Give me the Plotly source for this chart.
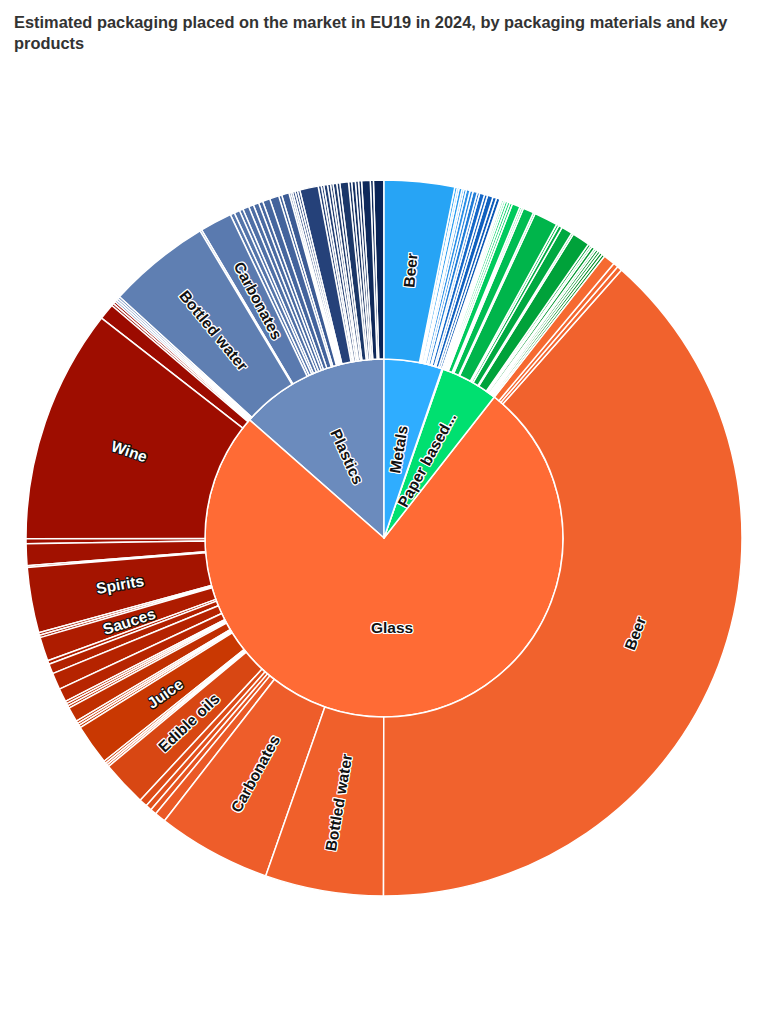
import math
import plotly.graph_objects as go

# ---------------- data (estimated kt) ----------------
# listed clockwise from 12 o'clock, as in the picture
materials = ["Metals", "Other", "Paper based composites", "Glass", "Plastics"]
material_short = ["Metals", "", "Paper based...", "Glass", "Plastics"]

metals_products = ["Beer", "Carbonates", "Energy drinks", "Bottled water", "Juice", "Sports drinks",
                   "Canned vegetables", "Canned fish", "Soups", "Pet food", "Ready meals", "Aerosols",
                   "Paints", "Coffee", "Infant formula"]
metals_values = [114, 4, 3, 5, 3, 4, 6, 5, 7, 4, 8, 5, 9, 6, 6]

other_products = ["Wine", "Spirits"]
other_values = [2, 1]

paper_products = ["Wine", "Spirits", "Soups", "Sauces", "Edible oils", "Juice", "Cereals", "Snacks",
                  "Milk", "Tea", "Beer", "Bottled water", "Carbonates", "Dairy drinks", "Confectionery",
                  "Frozen food", "Bakery", "Pet food", "Eggs", "Coffee", "Sugar", "Flour", "Baby food",
                  "Other food"]
paper_values = [3, 3, 4, 4, 4, 13, 3, 3, 17.5, 3, 38.5, 4, 6, 18, 3, 29, 4, 3, 5, 3, 4, 4, 4.5, 4.5]

glass_products = ["Cider", "Sparkling water", "Kombucha", "Beer", "Bottled water", "Carbonates",
                  "Ready-to-drink tea", "Energy drinks", "Sports drinks", "Flavoured water",
                  "Edible oils", "Vinegar", "Dressings", "Mayonnaise", "Juice",
                  "Nectars", "Smoothies", "Syrups", "Jams & spreads", "Honey", "Baby food", "Soups",
                  "Pickled vegetables", "Tomato products", "Dairy", "Coffee",
                  "Sauces", "Condiments", "Spices", "Spirits", "Liqueurs", "Sparkling wine",
                  "Fortified wine", "Wine", "Aromatised wine", "Vermouth", "Other beverages"]
glass_values = [19, 8, 8, 1384, 192, 185, 18, 10, 10, 13, 74, 3.5, 3.5, 4, 66,
                4, 4, 4, 24, 4, 4, 4, 22, 27, 16, 6,
                39, 4, 4, 106, 3, 35, 8, 380, 26, 4, 4]

plastics_products = ["Sauces", "Edible oils", "Juice", "Bottled water", "Flavoured water", "Carbonates",
                     "Milk", "Dairy drinks", "Yoghurt", "Ready-to-drink tea", "Energy drinks",
                     "Sports drinks", "Detergents", "Household cleaners", "Personal care", "Cosmetics",
                     "Confectionery", "Snacks", "Coffee", "Spreads", "Condiments", "Dressings",
                     "Fresh produce", "Meat", "Cheese", "Bakery", "Frozen food", "Ready meals",
                     "Pet food", "Baby food", "Fish", "Soups", "Spirits", "Wine", "Beer", "Cereals",
                     "Rice & pasta", "Other food"]
plastics_values = [3.5, 3.5, 3.5, 167, 3, 52, 7, 9, 6, 10, 8, 9, 7, 12, 15, 5, 12, 3, 3, 4, 4, 4,
                   30, 5, 4, 6, 5, 4, 6, 5, 14, 5, 6, 5, 5, 14, 5, 17]

products = [metals_products, other_products, paper_products, glass_products, plastics_products]
values = [metals_values, other_values, paper_values, glass_values, plastics_values]

# printed labels: (material, product or None for the material itself, orientation, text style)
label_specs = [
    ("Metals", None, "radial", "dark"), ("Paper based composites", None, "radial", "dark"),
    ("Glass", None, "horizontal", "dark"), ("Plastics", None, "radial", "dark"),
    ("Metals", "Beer", "radial", "dark"),
    ("Plastics", "Bottled water", "radial", "dark"), ("Plastics", "Carbonates", "radial", "dark"),
    ("Glass", "Beer", "tangential", "dark"), ("Glass", "Bottled water", "radial", "dark"),
    ("Glass", "Carbonates", "radial", "dark"), ("Glass", "Edible oils", "radial", "dark"),
    ("Glass", "Juice", "radial", "light"), ("Glass", "Sauces", "radial", "light"),
    ("Glass", "Spirits", "radial", "light"), ("Glass", "Wine", "radial", "light"),
]

# ---------------- styles / layout ----------------
CX, CY, R = 384, 538, 358          # pixel centre and radius of the sunburst
W, H = 768, 1024
LABEL_FONT = "Liberation Sans, Arial, sans-serif"
LABEL_SIZE = 15.5

inner_colors = ["#2FADFF", "#6E56D6", "#00E070", "#FF6B35", "#6B8BBD"]
shade_anchors = [
    [(0, "#27A4F5"), (0.45, "#2A8EE6"), (0.7, "#1668C8"), (1, "#0B58B5")],
    [(0, "#7B68EE"), (1, "#6A5ACD")],
    [(0, "#19E07C"), (0.2, "#00CC5E"), (0.45, "#00B34A"), (0.65, "#00A23A"), (0.8, "#00952C"), (1, "#008A22")],
    [(0, "#F66A31"), (0.14, "#EE5D2A"), (0.28, "#D84713"), (0.39, "#C93802"), (0.72, "#AE1C00"),
     (0.81, "#A31400"), (0.92, "#9E0D00"), (1, "#980800")],
    [(0, "#6686B8"), (0.13, "#5A7AAF"), (0.4, "#41619A"), (0.58, "#26427A"), (0.8, "#1C3869"), (1, "#0A2355")],
]


def hex2rgb(h):
    h = h.lstrip("#")
    return [int(h[i:i + 2], 16) for i in (0, 2, 4)]


def shade(anchors, t):
    for (p0, c0), (p1, c1) in zip(anchors[:-1], anchors[1:]):
        if p0 <= t <= p1:
            f = 0 if p1 == p0 else (t - p0) / (p1 - p0)
            a, b = hex2rgb(c0), hex2rgb(c1)
            return "rgb(%d,%d,%d)" % tuple(round(a[k] + (b[k] - a[k]) * f) for k in range(3))
    return anchors[-1][1]


def outline(c):
    return ", ".join("%dpx %dpx 0 %s" % (dx, dy, c)
                     for dx, dy in [(-1, -1), (1, -1), (-1, 1), (1, 1), (0, -1), (0, 1), (-1, 0), (1, 0)])


STYLES = {"dark": ("#111111", outline("#ffffff")), "light": ("#ffffff", outline("#111111"))}

# plotly lays slices out counter-clockwise, so feed everything in reverse order
ids, labels, parents, vals, colors = [], [], [], [], []
groups = list(zip(materials, products, values, inner_colors, shade_anchors))
for m, prods, vs, col, anc in reversed(groups):
    ids.append(m); labels.append(m); parents.append(""); vals.append(sum(vs)); colors.append(col)
    n = len(prods)
    for i in reversed(range(n)):
        ids.append(m + "/" + prods[i]); labels.append(prods[i]); parents.append(m); vals.append(vs[i])
        colors.append(shade(anc, i / (n - 1) if n > 1 else 0))

fig = go.Figure(go.Sunburst(
    ids=ids, labels=labels, parents=parents, values=vals, branchvalues="total",
    sort=False, rotation=90, textinfo="none",
    marker=dict(colors=colors, line=dict(color="white", width=1.5)),
    leaf=dict(opacity=1),
    domain=dict(x=[(CX - R) / W, (CX + R) / W], y=[(H - CY - R) / H, (H - CY + R) / H]),
    hovertemplate="%{label}: %{value} kt<extra></extra>",
))

# labels placed at the middle of their slices (angles derived from the values)
total = sum(sum(v) for v in values)
annotations = []
start = 0.0
for m, short, prods, vs in zip(materials, material_short, products, values):
    for mm, key, orient, style in label_specs:
        if mm != m:
            continue
        if key is None:
            a0, a1, txt, rfrac = start, start + sum(vs), short, 0.25
        else:
            k = prods.index(key)
            a0 = start + sum(vs[:k]); a1 = a0 + vs[k]; txt = key; rfrac = 0.75
        theta_deg = (a0 + a1) / 2 / total * 360
        theta = math.radians(theta_deg)
        px = CX + rfrac * R * math.sin(theta)
        py = CY - rfrac * R * math.cos(theta)
        if orient == "horizontal":
            ang = 0
        elif orient == "tangential":
            ang = theta_deg - 180 if theta_deg < 180 else theta_deg - 360
        else:
            ang = theta_deg - 90 if theta_deg < 180 else theta_deg - 270
        col, shadow = STYLES[style]
        annotations.append(dict(
            text=txt, x=px / W, y=1 - py / H, xref="paper", yref="paper", showarrow=False,
            xanchor="center", yanchor="middle", textangle=ang,
            font=dict(family=LABEL_FONT, size=LABEL_SIZE, weight="bold", color=col, shadow=shadow)))
    start += sum(vs)

annotations.append(dict(
    text="Estimated packaging placed on the market in EU19 in 2024, by packaging materials and key<br>products",
    x=12 / W, y=1 - 11 / H, xref="paper", yref="paper", xanchor="left", yanchor="top",
    align="left", showarrow=False,
    font=dict(family="Liberation Sans, Arial, sans-serif", size=16.4, weight="bold", color="#333333"),
))

fig.update_layout(width=W, height=H, margin=dict(l=0, r=0, t=0, b=0),
                  paper_bgcolor="white", annotations=annotations)

fig.write_html("out.html")
